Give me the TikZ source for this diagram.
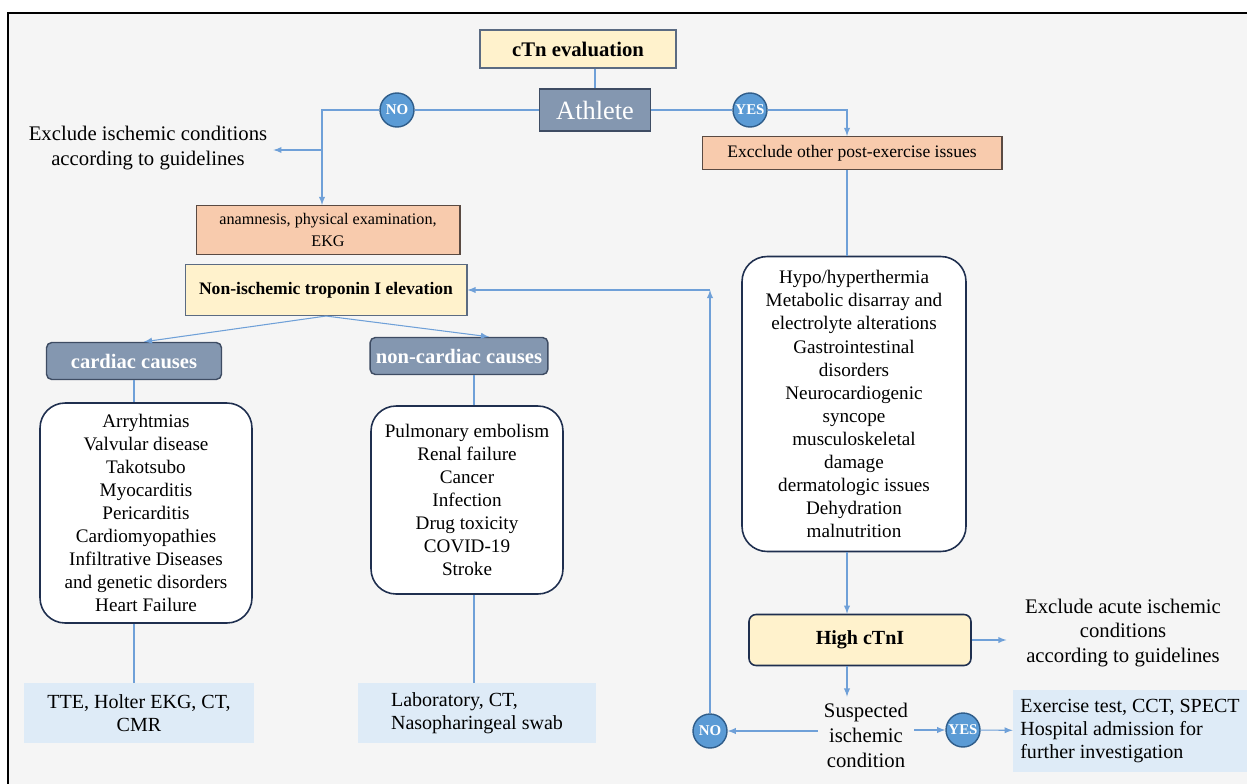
\documentclass[tikz,border=0pt]{standalone}
\usepackage{fontspec}
\setmainfont{Liberation Serif}
\usepackage{xcolor}
\usetikzlibrary{arrows}

\definecolor{bggray}{HTML}{F5F5F5}
\definecolor{linkblue}{HTML}{6FA0D8}
\definecolor{paleyellow}{HTML}{FFF2CC}
\definecolor{yellowedge}{HTML}{5B6B82}
\definecolor{slate}{HTML}{8497B0}
\definecolor{slateedge}{HTML}{3E4C63}
\definecolor{circblue}{HTML}{5B9BD5}
\definecolor{circedge}{HTML}{2F5D8A}
\definecolor{peach}{HTML}{F8CBAD}
\definecolor{peachedge}{HTML}{5A4A42}
\definecolor{paleblue}{HTML}{DEEBF7}
\definecolor{navy}{HTML}{1F2F4F}

\begin{document}
\begin{tikzpicture}[x=0.02cm,y=-0.02cm]
\tikzset{every node/.style={font=\fontsize{10.9}{13.1}\selectfont}}
\tikzset{conn/.style={draw=linkblue,line width=0.6pt,>=latex}}
\tikzset{plain/.style={align=center,font=\fontsize{11.8}{14.2}\selectfont}}
\tikzset{yellowbox/.style={draw=yellowedge,line width=0.6pt,fill=paleyellow,align=center,font=\bfseries\fontsize{10}{12}\selectfont}}
\tikzset{peachbox/.style={draw=peachedge,line width=0.6pt,fill=peach,align=center}}
\tikzset{causebox/.style={draw=slateedge,line width=0.8pt,fill=slate,rounded corners=3pt,text=white,minimum height=0.74cm,font=\bfseries\fontsize{11.7}{14}\selectfont}}
\tikzset{listbox/.style={draw=navy,line width=0.9pt,fill=white,rounded corners=0.5cm,align=center}}
\tikzset{testbox/.style={fill=paleblue,minimum height=1.2cm,align=center,font=\fontsize{11.4}{13.1}\selectfont}}
\tikzset{yesno/.style={circle,draw=circedge,line width=0.8pt,fill=circblue,minimum size=0.68cm,inner sep=0pt,text=white,font=\bfseries\fontsize{8.5}{10}\selectfont}}

\useasboundingbox (0,0) rectangle (1247,784);
\fill[white] (0,0) rectangle (1247,784);
\fill[bggray] (8,13) rectangle (1247,784);
\draw[black,line width=0.8pt] (8,784) -- (8,13) -- (1247,13);

% top
\node[yellowbox,minimum width=3.92cm,minimum height=0.76cm,font=\bfseries\fontsize{11.8}{14}\selectfont] (ctn) at (578,49) {cTn evaluation};
\node[draw=slateedge,line width=0.8pt,fill=slate,text=white,minimum width=2.22cm,minimum height=0.84cm,font=\fontsize{15}{18}\selectfont] (athlete) at (595,110) {Athlete};
\node[yesno] (no1) at (397,110) {NO};
\node[yesno] (yes1) at (750,110) {YES};

% left branch
\node[plain] (excl1) at (148,148) {Exclude ischemic conditions\\according to guidelines};
\node[peachbox,minimum width=5.28cm,minimum height=0.98cm,font=\fontsize{9.2}{12.5}\selectfont] (anam) at (328,230) {anamnesis, physical examination,\\EKG};
\node[yellowbox,minimum width=5.64cm,minimum height=1.02cm] (nonisch) at (326,290) {Non-ischemic troponin I elevation};
\node[causebox,minimum width=3.5cm] (cardiac) at (134,361) {cardiac causes};
\node[causebox,minimum width=3.52cm] (noncard) at (459,356) {non-cardiac causes};
\node[listbox,minimum width=4.24cm,minimum height=4.4cm] (cardlist) at (146,513) {Arryhtmias\\Valvular disease\\Takotsubo\\Myocarditis\\Pericarditis\\Cardiomyopathies\\Infiltrative Diseases\\and genetic disorders\\Heart Failure};
\node[listbox,minimum width=3.84cm,minimum height=3.76cm] (noncardlist) at (467,500) {Pulmonary embolism\\Renal failure\\Cancer\\Infection\\Drug toxicity\\COVID-19\\Stroke};
\node[testbox,minimum width=4.6cm] (tte) at (139,713) {TTE, Holter EKG, CT,\\CMR};
\node[testbox,minimum width=4.78cm,align=left] (lab) at (477,713) {Laboratory, CT,\\Nasopharingeal swab};

% right branch
\node[peachbox,minimum width=6cm,minimum height=0.66cm,font=\fontsize{10}{12}\selectfont] (excl2) at (852,153) {Excclude other post-exercise issues};
\node[listbox,minimum width=4.48cm,minimum height=5.9cm] (postlist) at (854,404) {Hypo/hyperthermia\\Metabolic disarray and\\electrolyte alterations\\Gastrointestinal\\disorders\\Neurocardiogenic\\syncope\\musculoskeletal\\damage\\dermatologic issues\\Dehydration\\malnutrition};
\node[yellowbox,draw=navy,line width=0.9pt,rounded corners=4pt,minimum width=4.44cm,minimum height=1.02cm,font=\bfseries\fontsize{11.4}{14}\selectfont] (high) at (860,640) {High cTnI};
\node[plain] (exclacute) at (1123,633) {Exclude acute ischemic\\conditions\\according to guidelines};
\node[plain] (susp) at (866,735) {Suspected\\ischemic\\condition};
\node[yesno] (no2) at (710,731) {NO};
\node[yesno] (yes2) at (963,730) {YES};
\node[testbox,minimum width=4.68cm,minimum height=1.64cm,align=left] (exer) at (1130,731) {Exercise test, CCT, SPECT\\Hospital admission for\\further investigation};

\coordinate (nosplit) at (322,110);
\coordinate (nobranch) at (322,150);
\coordinate (yessplit) at (847,110);
\coordinate (ncol) at (474,0);

\draw[conn] (athlete |- ctn.south) -- (athlete);
\draw[conn] (athlete) -- (no1);
\draw[conn,->] (no1) -- (nosplit) -- (nosplit |- anam.north);
\draw[conn,->] (nobranch) -- (nobranch -| excl1.east);
\draw[conn] (athlete) -- (yes1);
\draw[conn,->] (yes1) -- (yessplit) -- (yessplit |- excl2.north);
\draw[conn] (yessplit |- excl2.south) -- (yessplit |- postlist.north);
\draw[conn,->] (yessplit |- postlist.south) -- (yessplit |- high.north);
\draw[conn,->,shorten >=0.25cm] (high) -- (high -| exclacute.west);
\draw[conn,->] (yessplit |- high.south) -- (yessplit |- susp.north);
\draw[conn,->] (no2 -| susp.west) -- (no2);
\draw[conn,->] (yes2 -| susp.east) -- (yes2);
\draw[conn,->] (yes2) -- (exer);
\draw[conn,->] (no2) -- (no2 |- nonisch);
\draw[conn,->] (no2 |- nonisch) -- (nonisch);
\draw[conn,->] (nonisch.south) -- ([xshift=0.2cm]cardiac.north);
\draw[conn,->] (nonisch.south) -- ([xshift=0.6cm]noncard.north);
\draw[conn] (cardiac) -- (cardiac |- cardlist.north);
\draw[conn] (cardiac |- cardlist.south) -- (cardiac |- tte.north);
\draw[conn] (ncol |- noncard.south) -- (ncol |- noncardlist.north);
\draw[conn] (ncol |- noncardlist.south) -- (ncol |- lab.north);

\end{tikzpicture}
\end{document}
